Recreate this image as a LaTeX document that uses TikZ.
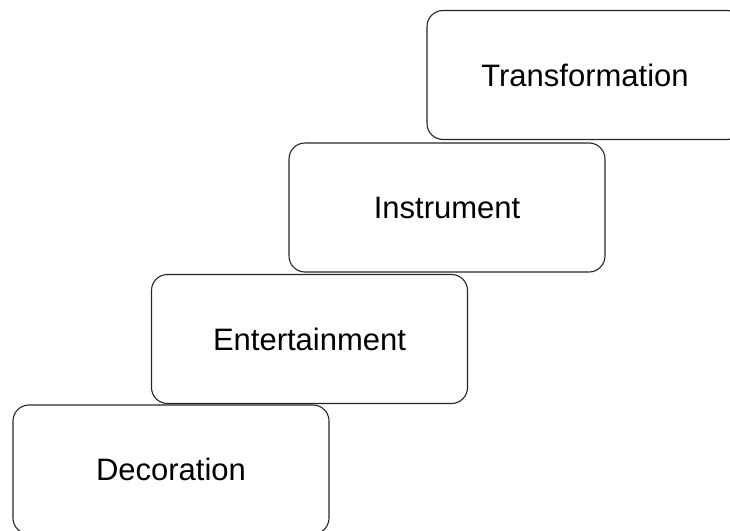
\documentclass[tikz,border=0pt]{standalone}
\usepackage{fontspec}
\setmainfont{Liberation Sans}
\begin{document}
\begin{tikzpicture}[x=1pt,y=-1pt]
\tikzset{stepbox/.style={draw=black!85, line width=1.1pt, rounded corners=16pt, minimum width=316pt, minimum height=129pt, font=\fontsize{31}{37}\selectfont, inner sep=0pt}}
\useasboundingbox (0,0) rectangle (730,530);
\clip (0,0) rectangle (730,530);
\node[stepbox] (dec) at (171,469.5) {Decoration};
\node[stepbox] (ent) at (309.5,339) {Entertainment};
\node[stepbox] (ins) at (447,207.5) {Instrument};
\node[stepbox] (tra) at (585,75) {Transformation};
\end{tikzpicture}
\end{document}
